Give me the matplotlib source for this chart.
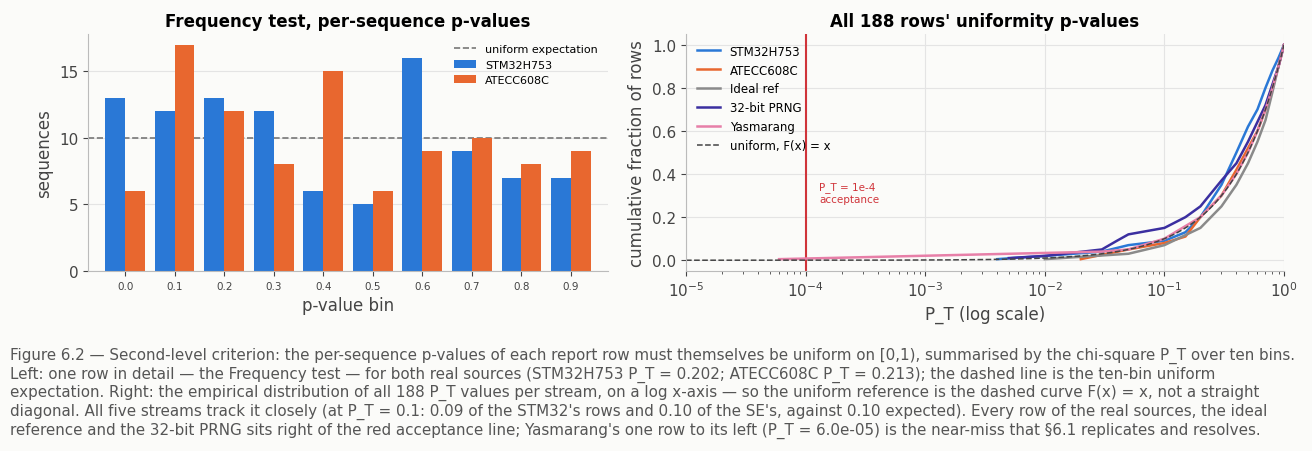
import numpy as np
import matplotlib.pyplot as plt

bins = ["0.0", "0.1", "0.2", "0.3", "0.4", "0.5", "0.6", "0.7", "0.8", "0.9"]
stm_counts = [13, 12, 13, 12, 6, 5, 16, 9, 7, 7]
se_counts = [6, 17, 12, 8, 15, 6, 9, 10, 8, 9]
expected = 10

# ECDF knots (P_T value, cumulative fraction)
stm_x = [0.004, 0.01, 0.03, 0.05, 0.1, 0.15, 0.2, 0.3, 0.4, 0.5, 0.6, 0.7, 0.8, 0.9, 1.0]
stm_y = [0.005, 0.02, 0.04, 0.07, 0.09, 0.13, 0.2, 0.35, 0.5, 0.62, 0.7, 0.8, 0.88, 0.94, 1.0]
se_x = [0.02, 0.05, 0.1, 0.15, 0.2, 0.3, 0.4, 0.5, 0.6, 0.7, 0.8, 0.9, 1.0]
se_y = [0.005, 0.05, 0.08, 0.11, 0.2, 0.3, 0.42, 0.52, 0.6, 0.7, 0.8, 0.9, 1.0]
ideal_x = [0.01, 0.05, 0.1, 0.2, 0.3, 0.4, 0.5, 0.6, 0.7, 0.8, 0.9, 1.0]
ideal_y = [0.005, 0.03, 0.07, 0.15, 0.25, 0.35, 0.45, 0.55, 0.65, 0.78, 0.9, 1.0]
prng_x = [0.005, 0.01, 0.03, 0.04, 0.05, 0.1, 0.15, 0.2, 0.3, 0.4, 0.5, 0.7, 0.9, 1.0]
prng_y = [0.01, 0.02, 0.05, 0.09, 0.12, 0.15, 0.2, 0.25, 0.37, 0.45, 0.55, 0.72, 0.9, 1.0]
yas_x = [6e-5, 0.03, 0.05, 0.1, 0.2, 0.3, 0.4, 0.5, 0.6, 0.7, 0.8, 0.9, 1.0]
yas_y = [0.005, 0.04, 0.05, 0.1, 0.2, 0.3, 0.4, 0.5, 0.6, 0.7, 0.8, 0.9, 1.0]

BLUE = "#2a78d6"
ORANGE = "#e8672f"
bg = "#fbfbf9"
txt = "#444444"

plt.rcParams["font.family"] = "DejaVu Sans"
fig = plt.figure(figsize=(13.12, 4.52), dpi=100, facecolor=bg)
ax1 = fig.add_axes([88/1312, 1-272/452, 520/1312, 237/452], facecolor=bg)
ax2 = fig.add_axes([686/1312, 1-272/452, 598/1312, 237/452], facecolor=bg)

x = np.arange(len(bins))
w = 0.4
ax1.axhline(expected, color="#777777", ls="--", lw=1.2, label="uniform expectation", zorder=1)
ax1.bar(x - w/2, stm_counts, w, color=BLUE, label="STM32H753", zorder=2)
ax1.bar(x + w/2, se_counts, w, color=ORANGE, label="ATECC608C", zorder=2)
ax1.set_xticks(x)
ax1.set_xticklabels(bins)
ax1.set_yticks([0, 5, 10, 15])
ax1.set_xlim(-0.75, 9.75)
ax1.set_ylim(0, 17.8)
ax1.set_xlabel("p-value bin", fontsize=12, color=txt)
ax1.set_ylabel("sequences", fontsize=12, color=txt)
ax1.set_title("Frequency test, per-sequence p-values", fontsize=12, fontweight="bold")
ax1.grid(axis="y", color="#e4e4e4", lw=0.8, zorder=0)
ax1.set_axisbelow(True)
ax1.legend(fontsize=8, frameon=False, loc="upper right")

ax2.axvline(1e-4, color="#d0343a", lw=1.5)
ax2.text(1.3e-4, 0.27, "P_T = 1e-4\nacceptance", color="#d0343a", fontsize=7.5)
ax2.plot(stm_x, stm_y, color=BLUE, lw=1.8, label="STM32H753")
ax2.plot(se_x, se_y, color=ORANGE, lw=1.8, label="ATECC608C")
ax2.plot(ideal_x, ideal_y, color="#8a8a8a", lw=1.8, label="Ideal ref")
ax2.plot(prng_x, prng_y, color="#3b2fa0", lw=1.8, label="32-bit PRNG")
ax2.plot(yas_x, yas_y, color="#e77fa8", lw=1.8, label="Yasmarang")
ux = np.logspace(-5, 0, 200)
ax2.plot(ux, ux, color="#444444", ls="--", lw=1.1, label="uniform, F(x) = x")
ax2.set_xscale("log")
ax2.set_xlim(1e-5, 1)
ax2.set_ylim(-0.05, 1.05)
ax2.set_xlabel("P_T (log scale)", fontsize=12, color=txt)
ax2.set_ylabel("cumulative fraction of rows", fontsize=12, color=txt)
ax2.set_title("All 188 rows' uniformity p-values", fontsize=12, fontweight="bold")
ax2.grid(color="#e4e4e4", lw=0.8)
ax2.legend(fontsize=8.5, frameon=False, loc="upper left")

for ax in (ax1, ax2):
    for s in ("top", "right"):
        ax.spines[s].set_visible(False)
    for s in ("left", "bottom"):
        ax.spines[s].set_color("#bbbbbb")
    ax.tick_params(colors=txt, labelsize=11, which="both")
ax1.tick_params(axis="x", labelsize=7.5)

caption = ("Figure 6.2 \u2014 Second-level criterion: the per-sequence p-values of each report row must themselves be uniform on [0,1), summarised by the chi-square P_T over ten bins.\n"
           "Left: one row in detail \u2014 the Frequency test \u2014 for both real sources (STM32H753 P_T = 0.202; ATECC608C P_T = 0.213); the dashed line is the ten-bin uniform\n"
           "expectation. Right: the empirical distribution of all 188 P_T values per stream, on a log x-axis \u2014 so the uniform reference is the dashed curve F(x) = x, not a straight\n"
           "diagonal. All five streams track it closely (at P_T = 0.1: 0.09 of the STM32's rows and 0.10 of the SE's, against 0.10 expected). Every row of the real sources, the ideal\n"
           "reference and the 32-bit PRNG sits right of the red acceptance line; Yasmarang's one row to its left (P_T = 6.0e-05) is the near-miss that \u00a76.1 replicates and resolves.")
fig.text(10/1312, 1-348/452, caption, fontsize=10.9, color="#555555", va="top", linespacing=1.2)

fig.savefig("out.png", dpi=100, facecolor=bg)
